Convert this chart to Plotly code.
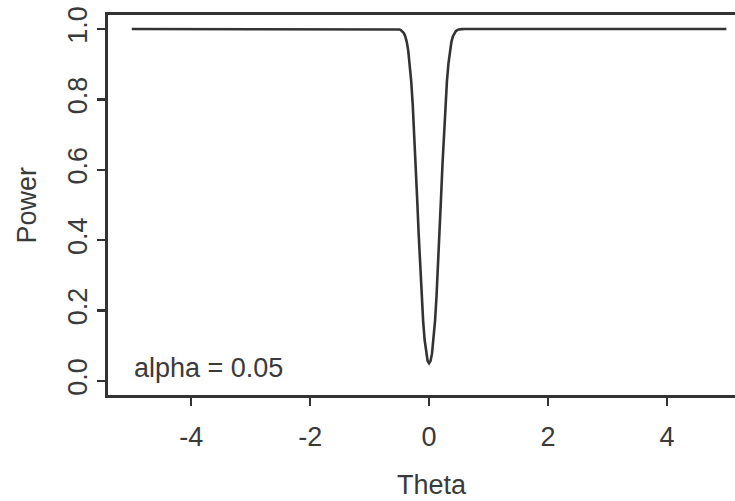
import plotly.graph_objects as go

# Power curve (alpha = 0.05)
theta = [-5.0, -0.6, -0.55, -0.5, -0.475, -0.45, -0.425, -0.4, -0.375, -0.35, -0.325, -0.3,
         -0.275, -0.25, -0.225, -0.2, -0.175, -0.15, -0.125, -0.1, -0.075, -0.05, -0.025, 0.0,
         0.025, 0.05, 0.075, 0.1, 0.125, 0.15, 0.175, 0.2, 0.225, 0.25, 0.275, 0.3,
         0.325, 0.35, 0.375, 0.4, 0.425, 0.45, 0.475, 0.5, 0.55, 0.6, 5.0]
power = [1.0, 1.0, 0.9998, 0.999, 0.997, 0.994, 0.989, 0.979, 0.963, 0.938, 0.901, 0.851,
         0.785, 0.705, 0.614, 0.516, 0.417, 0.323, 0.240, 0.170, 0.117, 0.079, 0.057, 0.050,
         0.057, 0.079, 0.117, 0.170, 0.240, 0.323, 0.417, 0.516, 0.614, 0.705, 0.785, 0.851,
         0.901, 0.938, 0.963, 0.979, 0.989, 0.994, 0.997, 0.999, 0.9998, 1.0, 1.0]

x_ticks = [-4, -2, 0, 2, 4]
y_ticks = [0.0, 0.2, 0.4, 0.6, 0.8, 1.0]
y_tick_labels = ["0.0", "0.2", "0.4", "0.6", "0.8", "1.0"]
x_title = "Theta"
y_title = "Power"
note = "alpha = 0.05"

LINE = "#333333"
TEXT = "#3a3a3a"
FONT = "Liberation Sans, Arial, Helvetica, sans-serif"
FS = 27

fig = go.Figure()
fig.add_trace(go.Scatter(x=theta, y=power, mode="lines",
                         line=dict(color=LINE, width=2.6), showlegend=False,
                         hoverinfo="skip"))

fig.update_layout(
    width=735, height=501,
    margin=dict(l=108, r=0, t=15, b=106),
    paper_bgcolor="white", plot_bgcolor="white",
    font=dict(family=FONT, size=FS, color=TEXT),
    hovermode=False,
    xaxis=dict(range=[-5.4, 5.145], tickmode="array", tickvals=x_ticks,
               ticktext=[str(v) for v in x_ticks],
               showgrid=False, zeroline=False, showline=True, mirror=True,
               linecolor=LINE, linewidth=2.6, ticks="outside", ticklen=8,
               tickwidth=2.4, tickcolor=LINE, ticklabelstandoff=8,
               tickfont=dict(size=FS, color=TEXT)),
    yaxis=dict(range=[-0.04, 1.04], tickmode="array", tickvals=y_ticks,
               ticktext=y_tick_labels, tickangle=-90,
               showgrid=False, zeroline=False, showline=True, mirror=False,
               linecolor=LINE, linewidth=2.6, ticks="outside", ticklen=8,
               tickwidth=2.4, tickcolor=LINE, ticklabelstandoff=0,
               tickfont=dict(size=FS, color=TEXT)),
    annotations=[
        dict(text=x_title, xref="x", yref="paper", x=0.05, y=-0.2367,
             xanchor="center", yanchor="middle", showarrow=False,
             font=dict(size=FS, color=TEXT)),
        dict(text=y_title, xref="paper", yref="y", x=-0.1284, y=0.5,
             xanchor="center", yanchor="middle", textangle=-90, showarrow=False,
             font=dict(size=FS, color=TEXT)),
        dict(text=note, xref="x", yref="y", x=-5.0, y=0.036,
             xanchor="left", yanchor="middle", showarrow=False,
             font=dict(size=FS, color=TEXT)),
    ],
)

fig.write_html("out.html", config={"displayModeBar": False, "staticPlot": True},
               post_script="document.body.style.margin='0';document.body.style.overflow='hidden';")
